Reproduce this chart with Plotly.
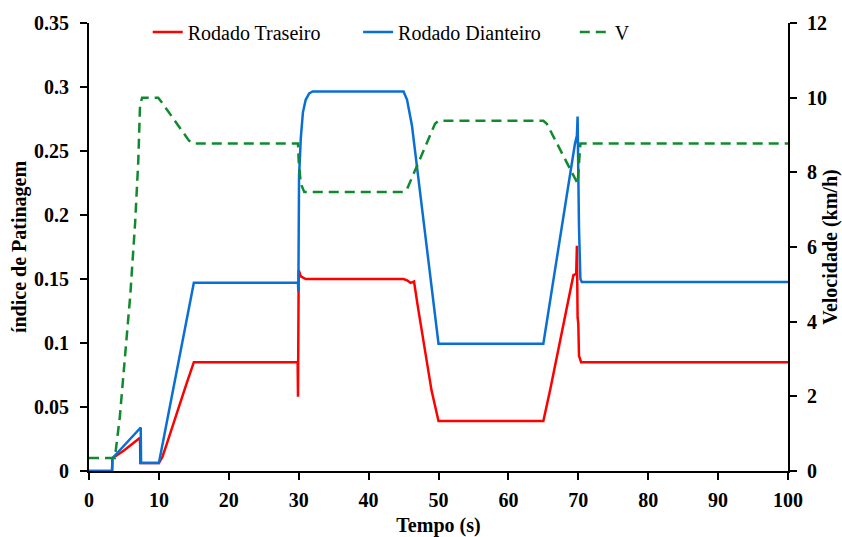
import plotly.graph_objects as go

# Rodado Traseiro (red)
t_tras = [0, 3.3, 3.35, 5, 7.3, 7.35, 10, 10.5, 11, 12, 13, 14, 15, 29.85, 29.9, 29.95, 30.0, 30.3, 31,
          45, 45.5, 46, 46.5, 47, 48, 49, 50, 65, 66, 67, 68, 69, 69.3, 69.7, 69.8, 69.9, 70.0, 70.1, 70.4, 100]
v_tras = [0, 0, 0.01, 0.016, 0.026, 0.0062, 0.0062, 0.011, 0.019, 0.036, 0.053, 0.069, 0.085, 0.085, 0.058, 0.09, 0.157, 0.152, 0.15,
          0.15, 0.149, 0.147, 0.148, 0.13, 0.095, 0.063, 0.039, 0.039, 0.064, 0.091, 0.118, 0.145, 0.153, 0.154, 0.176, 0.12, 0.115, 0.09, 0.085, 0.085]

# Rodado Dianteiro (blue)
t_diant = [0, 3.3, 3.35, 7.4, 7.45, 10, 15, 29.9, 29.95, 30.0, 30.02, 30.05, 30.3, 30.6, 31, 31.5, 32,
           45, 45.5, 46.2, 50, 65, 69.5, 69.8, 69.9, 70.0, 70.1, 70.3, 70.5, 100]
v_diant = [0, 0, 0.01, 0.034, 0.0062, 0.0062, 0.147, 0.147, 0.14, 0.178, 0.15, 0.23, 0.26, 0.28, 0.29, 0.295, 0.2965,
           0.2965, 0.29, 0.27, 0.0995, 0.0995, 0.255, 0.262, 0.277, 0.2, 0.19, 0.15, 0.1476, 0.1476]

# Velocidade V (green, km/h)
t_vel = [0, 3.7, 4.4, 4.9, 5.9, 6.6, 7.05, 7.3, 7.6, 9.9, 10.5, 14.3, 15, 29.9, 30.0, 30.3, 30.8,
         45, 45.5, 49.5, 50, 65, 65.5, 69.9, 70.1, 70.3, 100]
v_vel = [0.35, 0.35, 1.43, 2.6, 4.7, 6.65, 8.3, 9.8, 10.0, 10.0, 9.85, 8.85, 8.77, 8.77, 8.3, 7.7, 7.47,
         7.47, 7.55, 9.3, 9.38, 9.38, 9.3, 7.7, 8.4, 8.77, 8.77]

x_ticks = list(range(0, 101, 10))
y_ticks = [0, 0.05, 0.1, 0.15, 0.2, 0.25, 0.3, 0.35]
y_tick_text = ["0", "0.05", "0.1", "0.15", "0.2", "0.25", "0.3", "0.35"]
y2_ticks = [0, 2, 4, 6, 8, 10, 12]

FONT = "Liberation Serif"
tick_font = dict(family=FONT, size=20, color="black", weight="bold")
title_font = dict(family=FONT, size=20, color="black", weight="bold")

fig = go.Figure()
fig.add_trace(go.Scatter(x=t_tras, y=v_tras, mode="lines", name="Rodado Traseiro",
                         line=dict(color="#ff0000", width=2.5), legend="legend"))
fig.add_trace(go.Scatter(x=t_diant, y=v_diant, mode="lines", name="Rodado Dianteiro",
                         line=dict(color="#0a6fd4", width=2.5), legend="legend2"))
fig.add_trace(go.Scatter(x=t_vel, y=v_vel, mode="lines", name="V", yaxis="y2",
                         line=dict(color="#118a2e", width=2.5, dash="10px,6px"), legend="legend3"))

leg_common = dict(orientation="h", yanchor="middle", y=0.98, xanchor="left",
                  font=dict(family=FONT, size=20, color="black"), bgcolor="rgba(0,0,0,0)")
axis_common = dict(ticks="outside", ticklen=7, tickwidth=2, tickcolor="black",
                   showline=True, linecolor="black", linewidth=2, showgrid=False, zeroline=False,
                   tickfont=tick_font, automargin=False)
fig.update_layout(
    width=842, height=537,
    margin=dict(l=89, r=54, t=18, b=66),
    paper_bgcolor="white", plot_bgcolor="white",
    font=dict(family=FONT, color="black"),
    showlegend=True,
    legend=dict(x=0.084, **leg_common),
    legend2=dict(x=0.385, **leg_common),
    legend3=dict(x=0.695, **leg_common),
    xaxis=dict(range=[0, 100], tickvals=x_ticks, ticklabelstandoff=3, **axis_common,
               title=dict(text="Tempo (s)", font=title_font, standoff=11)),
    yaxis=dict(range=[0, 0.35], tickvals=y_ticks, ticktext=y_tick_text, ticklabelstandoff=7, **axis_common,
               title=dict(text="índice de Patinagem", font=title_font, standoff=2)),
    yaxis2=dict(range=[0, 12], tickvals=y2_ticks, overlaying="y", side="right", ticklabelstandoff=6, **axis_common,
                title=dict(text="Velocidade (km/h)", font=title_font, standoff=17)),
)
fig.write_html("out.html", config={"displayModeBar": False},
               post_script="document.body.style.margin='0';document.body.style.overflow='hidden';")
